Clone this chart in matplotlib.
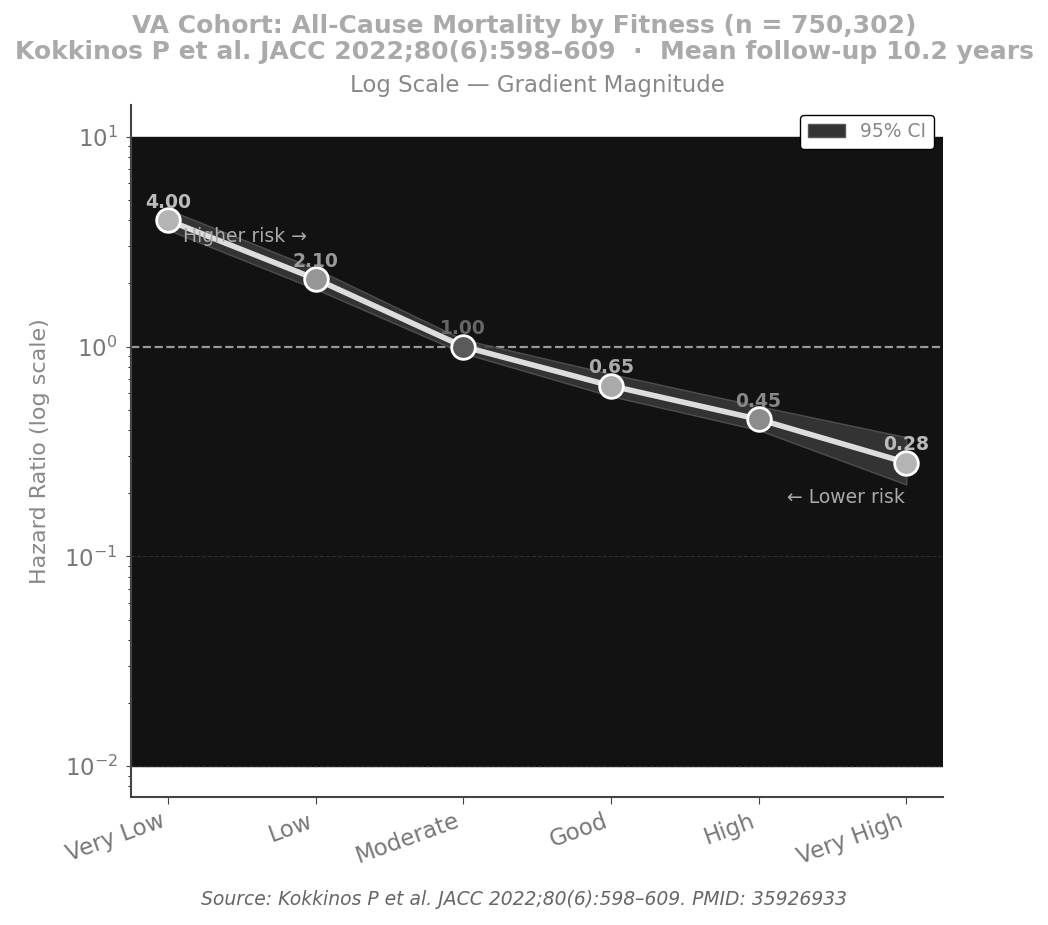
import numpy as np
import matplotlib
matplotlib.use('Agg')
import matplotlib.pyplot as plt
from matplotlib.patches import Patch

#fitness categories and hazard ratios
categories = ['Very Low', 'Low', 'Moderate', 'Good', 'High', 'Very High']
hr = [4.00, 2.10, 1.00, 0.65, 0.45, 0.28]
ci_low = [3.60, 1.88, 0.93, 0.58, 0.40, 0.22]
ci_high = [4.50, 2.35, 1.08, 0.74, 0.52, 0.37]
marker_colors = ['#b4b4b4', '#969696', '#5a5a5a', '#aaaaaa', '#8c8c8c', '#b4b4b4']
label_colors = ['#bbbbbb', '#999999', '#666666', '#aaaaaa', '#888888', '#bbbbbb']

x = np.arange(len(categories))

fig = plt.figure(figsize=(10.48, 9.25), dpi=100)
ax = fig.add_axes([0.125, 0.138, 0.775, 0.748])

#dark background band between 10^-2 and 10^1
ax.axhspan(0.01, 10, color='#121212', zorder=0)
ax.set_yscale('log')
ax.set_xlim(-0.25, 5.25)
ax.set_ylim(0.0071, 14.1)

#confidence band
ax.fill_between(x, ci_low, ci_high, color='#3a3a3a', alpha=0.85, edgecolor='#555555', linewidth=1, zorder=2)
ax.plot(x, hr, color='#dddddd', linewidth=4, zorder=3)
for i in range(len(x)):
    ax.plot(x[i], hr[i], 'o', markersize=17, markerfacecolor=marker_colors[i],
            markeredgecolor='white', markeredgewidth=2, zorder=4)
    ax.annotate('%.2f' % hr[i], (x[i], hr[i]), xytext=(0, 6), textcoords='offset points',
                ha='center', va='bottom', fontsize=13.5, fontweight='bold', color=label_colors[i], zorder=5)

#reference line at HR = 1
ax.axhline(1.0, color='#999999', linestyle='--', linewidth=1.6, zorder=1)
for yv in [0.1, 0.01]:
    ax.axhline(yv, color='#2e2e2e', linestyle='--', linewidth=0.8, zorder=1)

ax.text(0.1, 3.35, 'Higher risk \u2192', fontsize=13.5, color='#aaaaaa', va='center', zorder=5)
ax.text(4.99, 0.19, '\u2190 Lower risk', fontsize=13.5, color='#aaaaaa', ha='right', va='center', zorder=5)

ax.set_xticks(x)
ax.set_xticklabels(categories, rotation=20, ha='right', fontsize=16.5)
ax.tick_params(axis='y', labelsize=16.5, colors='#444444', labelcolor='#777777', pad=6)
ax.tick_params(axis='x', colors='#444444', labelcolor='#777777', length=5)
ax.set_ylabel('Hazard Ratio (log scale)', fontsize=16, color='#888888', labelpad=10)
ax.spines['top'].set_visible(False)
ax.spines['right'].set_visible(False)
ax.spines['left'].set_color('#444444')
ax.spines['bottom'].set_color('#444444')
ax.spines['left'].set_linewidth(1.5)
ax.spines['bottom'].set_linewidth(1.5)

ax.legend(handles=[Patch(facecolor='#333333', edgecolor='#555555', label='95% CI')],
          loc='upper right', fontsize=13.5, frameon=True, edgecolor='black', fancybox=True,
          labelcolor='#888888', framealpha=1)

fig.text(0.5, 0.985, 'VA Cohort: All-Cause Mortality by Fitness (n = 750,302)\n'
         'Kokkinos P et al. JACC 2022;80(6):598\u2013609  \u00b7  Mean follow-up 10.2 years',
         ha='center', va='top', fontsize=18, fontweight='bold', color='#aaaaaa', linespacing=1.1)
ax.set_title('Log Scale \u2014 Gradient Magnitude', fontsize=16.5, color='#888888', pad=10)
fig.text(0.5, 0.028, 'Source: Kokkinos P et al. JACC 2022;80(6):598\u2013609. PMID: 35926933',
         ha='center', va='center', fontsize=13.5, style='italic', color='#666666')

fig.savefig('out.png', dpi=100)
